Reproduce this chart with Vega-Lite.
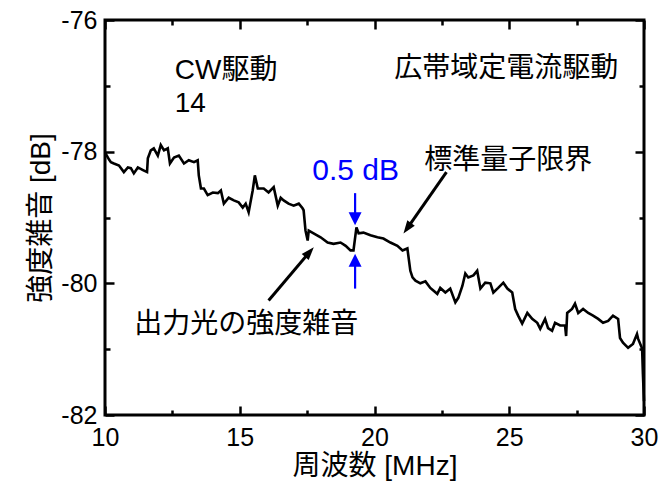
{
  "$schema": "https://vega.github.io/schema/vega-lite/v6.json",
  "width": 539,
  "height": 395,
  "autosize": {"type": "none"},
  "padding": {"left": 105, "top": 20, "right": 27, "bottom": 70},
  "datasets": {
    "trace": [
      {"f": 10.00, "n": -78.01}, {"f": 10.15, "n": -78.12}, {"f": 10.22, "n": -78.16}, {"f": 10.33, "n": -78.18},
      {"f": 10.52, "n": -78.21}, {"f": 10.70, "n": -78.31}, {"f": 10.85, "n": -78.24}, {"f": 10.96, "n": -78.25},
      {"f": 11.07, "n": -78.33}, {"f": 11.22, "n": -78.24}, {"f": 11.41, "n": -78.28}, {"f": 11.56, "n": -78.31},
      {"f": 11.59, "n": -78.10}, {"f": 11.70, "n": -77.98}, {"f": 11.81, "n": -77.95}, {"f": 11.96, "n": -78.06},
      {"f": 12.07, "n": -77.90}, {"f": 12.19, "n": -77.98}, {"f": 12.33, "n": -77.95}, {"f": 12.41, "n": -78.18},
      {"f": 12.56, "n": -78.09}, {"f": 12.74, "n": -78.06}, {"f": 12.93, "n": -78.18}, {"f": 13.11, "n": -78.13},
      {"f": 13.30, "n": -78.16}, {"f": 13.44, "n": -78.13}, {"f": 13.48, "n": -78.36}, {"f": 13.56, "n": -78.56},
      {"f": 13.67, "n": -78.56}, {"f": 13.81, "n": -78.66}, {"f": 14.00, "n": -78.62}, {"f": 14.19, "n": -78.63},
      {"f": 14.30, "n": -78.59}, {"f": 14.41, "n": -78.79}, {"f": 14.59, "n": -78.70}, {"f": 14.78, "n": -78.74},
      {"f": 14.96, "n": -78.77}, {"f": 15.11, "n": -78.85}, {"f": 15.22, "n": -78.79}, {"f": 15.33, "n": -78.92},
      {"f": 15.48, "n": -78.59}, {"f": 15.56, "n": -78.36}, {"f": 15.67, "n": -78.56}, {"f": 15.89, "n": -78.56},
      {"f": 16.07, "n": -78.62}, {"f": 16.26, "n": -78.54}, {"f": 16.41, "n": -78.82}, {"f": 16.52, "n": -78.70},
      {"f": 16.63, "n": -78.74}, {"f": 16.81, "n": -78.79}, {"f": 17.00, "n": -78.82}, {"f": 17.19, "n": -78.79},
      {"f": 17.33, "n": -78.86}, {"f": 17.37, "n": -78.89}, {"f": 17.44, "n": -79.20}, {"f": 17.52, "n": -79.35},
      {"f": 17.56, "n": -79.20}, {"f": 17.74, "n": -79.24}, {"f": 18.00, "n": -79.30}, {"f": 18.26, "n": -79.38},
      {"f": 18.48, "n": -79.40}, {"f": 18.74, "n": -79.38}, {"f": 18.93, "n": -79.43}, {"f": 19.11, "n": -79.50},
      {"f": 19.22, "n": -79.50}, {"f": 19.33, "n": -79.15}, {"f": 19.41, "n": -79.24}, {"f": 19.59, "n": -79.23},
      {"f": 19.85, "n": -79.27}, {"f": 20.11, "n": -79.30}, {"f": 20.33, "n": -79.32}, {"f": 20.59, "n": -79.38},
      {"f": 20.85, "n": -79.43}, {"f": 21.04, "n": -79.50}, {"f": 21.22, "n": -79.47}, {"f": 21.33, "n": -79.81},
      {"f": 21.41, "n": -79.91}, {"f": 21.52, "n": -79.96}, {"f": 21.70, "n": -80.00}, {"f": 21.89, "n": -79.97},
      {"f": 22.07, "n": -80.07}, {"f": 22.33, "n": -80.16}, {"f": 22.44, "n": -80.07}, {"f": 22.63, "n": -80.14},
      {"f": 22.81, "n": -80.08}, {"f": 23.00, "n": -80.29}, {"f": 23.11, "n": -80.22}, {"f": 23.26, "n": -80.04},
      {"f": 23.37, "n": -79.85}, {"f": 23.48, "n": -79.91}, {"f": 23.67, "n": -79.88}, {"f": 23.81, "n": -79.81},
      {"f": 23.93, "n": -80.08}, {"f": 24.11, "n": -79.99}, {"f": 24.30, "n": -80.00}, {"f": 24.41, "n": -80.14},
      {"f": 24.59, "n": -80.07}, {"f": 24.78, "n": -79.99}, {"f": 24.93, "n": -80.08}, {"f": 25.11, "n": -80.14},
      {"f": 25.22, "n": -80.39}, {"f": 25.33, "n": -80.49}, {"f": 25.48, "n": -80.61}, {"f": 25.67, "n": -80.45},
      {"f": 25.85, "n": -80.54}, {"f": 26.04, "n": -80.60}, {"f": 26.15, "n": -80.69}, {"f": 26.33, "n": -80.54},
      {"f": 26.44, "n": -80.68}, {"f": 26.59, "n": -80.72}, {"f": 26.70, "n": -80.60}, {"f": 26.89, "n": -80.64},
      {"f": 27.07, "n": -80.64}, {"f": 27.11, "n": -80.80}, {"f": 27.15, "n": -80.45}, {"f": 27.33, "n": -80.39},
      {"f": 27.44, "n": -80.31}, {"f": 27.56, "n": -80.45}, {"f": 27.74, "n": -80.39}, {"f": 27.93, "n": -80.45},
      {"f": 28.11, "n": -80.49}, {"f": 28.30, "n": -80.54}, {"f": 28.48, "n": -80.60}, {"f": 28.67, "n": -80.57},
      {"f": 28.85, "n": -80.49}, {"f": 29.04, "n": -80.54}, {"f": 29.11, "n": -80.83}, {"f": 29.22, "n": -80.90},
      {"f": 29.41, "n": -80.98}, {"f": 29.59, "n": -80.92}, {"f": 29.74, "n": -80.77}, {"f": 29.78, "n": -80.84},
      {"f": 29.93, "n": -80.99}, {"f": 29.96, "n": -81.38}, {"f": 30.00, "n": -81.79}
    ],
    "arrow_sql": [{"f": 22.67, "n": -78.31, "f2": 21.24, "n2": -79.15}],
    "arrow_out": [{"f": 16.07, "n": -80.26, "f2": 17.56, "n2": -79.54}],
    "blue_top": [{"f": 19.28, "n": -78.63, "f2": 19.28, "n2": -79.00}],
    "blue_bottom": [{"f": 19.28, "n": -80.08, "f2": 19.28, "n2": -79.67}],
    "notes_left": [
      {"f": 12.59, "n": -76.77, "label": "CW駆動"},
      {"f": 12.59, "n": -77.27, "label": "14"}
    ],
    "notes_center": [
      {"f": 24.89, "n": -76.75, "label": "広帯域定電流駆動"},
      {"f": 24.96, "n": -78.14, "label": "標準量子限界"},
      {"f": 15.24, "n": -80.64, "label": "出力光の強度雑音"}
    ],
    "notes_blue": [{"f": 19.30, "n": -78.29, "label": "0.5 dB"}]
  },
  "layer": [
    {
      "data": {"name": "trace"},
      "mark": {"type": "line", "color": "#000", "strokeWidth": 2.6},
      "encoding": {
        "x": {"field": "f", "type": "quantitative", "scale": {"domain": [10, 30], "nice": false, "zero": false},
          "axis": {"orient": "bottom", "values": [10, 15, 20, 25, 30], "ticks": false, "labelPadding": 10, "title": "周波数 [MHz]", "titlePadding": 2}},
        "y": {"field": "n", "type": "quantitative", "scale": {"domain": [-82, -76], "nice": false, "zero": false},
          "axis": {"orient": "left", "values": [-82, -80, -78, -76], "ticks": false, "labelPadding": 8, "title": "強度雑音 [dB]", "titlePadding": 5,
            "labelExpr": "datum.value < 0 ? '-' + abs(datum.value) : '' + datum.value"}}
      }
    },
    {
      "data": {"name": "arrow_sql"},
      "mark": {"type": "rule", "color": "#000", "strokeWidth": 3},
      "encoding": {
        "x": {"field": "f", "type": "quantitative", "scale": {"domain": [10, 30], "nice": false, "zero": false},
          "axis": {"orient": "bottom", "values": [10, 15, 20, 25, 30], "labels": false, "tickSize": 9, "offset": -9, "title": null}},
        "y": {"field": "n", "type": "quantitative", "scale": {"domain": [-82, -76], "nice": false, "zero": false},
          "axis": {"orient": "left", "values": [-82, -80, -78, -76], "labels": false, "tickSize": 9, "offset": -9, "title": null}},
        "x2": {"field": "f2"},
        "y2": {"field": "n2"}
      }
    },
    {
      "data": {"name": "arrow_out"},
      "mark": {"type": "rule", "color": "#000", "strokeWidth": 3},
      "encoding": {
        "x": {"field": "f", "type": "quantitative", "scale": {"domain": [10, 30], "nice": false, "zero": false},
          "axis": {"orient": "bottom", "values": [12.5, 17.5, 22.5, 27.5], "labels": false, "tickSize": 5, "offset": -5, "title": null}},
        "y": {"field": "n", "type": "quantitative", "scale": {"domain": [-82, -76], "nice": false, "zero": false},
          "axis": {"orient": "left", "values": [-81, -79, -77], "labels": false, "tickSize": 5, "offset": -5, "title": null}},
        "x2": {"field": "f2"},
        "y2": {"field": "n2"}
      }
    },
    {
      "data": {"name": "blue_top"},
      "mark": {"type": "rule", "color": "#0000ff", "strokeWidth": 2.2},
      "encoding": {
        "x": {"field": "f", "type": "quantitative", "scale": {"domain": [10, 30], "nice": false, "zero": false},
          "axis": {"orient": "top", "values": [10, 15, 20, 25, 30], "labels": false, "tickSize": 9, "offset": -9, "title": null}},
        "y": {"field": "n", "type": "quantitative", "scale": {"domain": [-82, -76], "nice": false, "zero": false},
          "axis": {"orient": "right", "values": [-82, -80, -78, -76], "labels": false, "tickSize": 9, "offset": -9, "title": null}},
        "x2": {"field": "f2"},
        "y2": {"field": "n2"}
      }
    },
    {
      "data": {"name": "blue_bottom"},
      "mark": {"type": "rule", "color": "#0000ff", "strokeWidth": 2.2},
      "encoding": {
        "x": {"field": "f", "type": "quantitative", "scale": {"domain": [10, 30], "nice": false, "zero": false},
          "axis": {"orient": "top", "values": [12.5, 17.5, 22.5, 27.5], "labels": false, "tickSize": 5, "offset": -5, "title": null}},
        "y": {"field": "n", "type": "quantitative", "scale": {"domain": [-82, -76], "nice": false, "zero": false},
          "axis": {"orient": "right", "values": [-81, -79, -77], "labels": false, "tickSize": 5, "offset": -5, "title": null}},
        "x2": {"field": "f2"},
        "y2": {"field": "n2"}
      }
    },
    {
      "data": {"name": "arrow_sql"},
      "mark": {"type": "point", "shape": "M0,-1L0.6,0.7L-0.6,0.7Z", "filled": true, "color": "#000", "opacity": 1, "strokeWidth": 0, "size": 235, "angle": 215.5},
      "encoding": {
        "x": {"field": "f2", "type": "quantitative", "scale": {"domain": [10, 30], "nice": false, "zero": false}, "axis": null},
        "y": {"field": "n2", "type": "quantitative", "scale": {"domain": [-82, -76], "nice": false, "zero": false}, "axis": null}
      }
    },
    {
      "data": {"name": "arrow_out"},
      "mark": {"type": "point", "shape": "M0,-1L0.6,0.7L-0.6,0.7Z", "filled": true, "color": "#000", "opacity": 1, "strokeWidth": 0, "size": 235, "angle": 41},
      "encoding": {
        "x": {"field": "f2", "type": "quantitative", "scale": {"domain": [10, 30], "nice": false, "zero": false}, "axis": null},
        "y": {"field": "n2", "type": "quantitative", "scale": {"domain": [-82, -76], "nice": false, "zero": false}, "axis": null}
      }
    },
    {
      "data": {"name": "blue_top"},
      "mark": {"type": "point", "shape": "M0,-0.9L0.75,0.6L-0.75,0.6Z", "filled": true, "color": "#0000ff", "opacity": 1, "strokeWidth": 0, "size": 300, "angle": 180},
      "encoding": {
        "x": {"field": "f2", "type": "quantitative", "scale": {"domain": [10, 30], "nice": false, "zero": false}, "axis": null},
        "y": {"field": "n2", "type": "quantitative", "scale": {"domain": [-82, -76], "nice": false, "zero": false}, "axis": null}
      }
    },
    {
      "data": {"name": "blue_bottom"},
      "mark": {"type": "point", "shape": "M0,-0.9L0.75,0.6L-0.75,0.6Z", "filled": true, "color": "#0000ff", "opacity": 1, "strokeWidth": 0, "size": 300, "angle": 0},
      "encoding": {
        "x": {"field": "f2", "type": "quantitative", "scale": {"domain": [10, 30], "nice": false, "zero": false}, "axis": null},
        "y": {"field": "n2", "type": "quantitative", "scale": {"domain": [-82, -76], "nice": false, "zero": false}, "axis": null}
      }
    },
    {
      "data": {"name": "notes_left"},
      "mark": {"type": "text", "align": "left", "baseline": "middle", "fontSize": 28, "color": "#000", "font": "'Liberation Sans', 'Noto Sans CJK JP', sans-serif"},
      "encoding": {
        "x": {"field": "f", "type": "quantitative", "scale": {"domain": [10, 30], "nice": false, "zero": false}, "axis": null},
        "y": {"field": "n", "type": "quantitative", "scale": {"domain": [-82, -76], "nice": false, "zero": false}, "axis": null},
        "text": {"field": "label"}
      }
    },
    {
      "data": {"name": "notes_center"},
      "mark": {"type": "text", "align": "center", "baseline": "middle", "fontSize": 28, "color": "#000", "font": "'Liberation Sans', 'Noto Sans CJK JP', sans-serif"},
      "encoding": {
        "x": {"field": "f", "type": "quantitative", "scale": {"domain": [10, 30], "nice": false, "zero": false}, "axis": null},
        "y": {"field": "n", "type": "quantitative", "scale": {"domain": [-82, -76], "nice": false, "zero": false}, "axis": null},
        "text": {"field": "label"}
      }
    },
    {
      "data": {"name": "notes_blue"},
      "mark": {"type": "text", "align": "center", "baseline": "middle", "fontSize": 30, "color": "#0000ff", "font": "'Liberation Sans', 'Noto Sans CJK JP', sans-serif"},
      "encoding": {
        "x": {"field": "f", "type": "quantitative", "scale": {"domain": [10, 30], "nice": false, "zero": false}, "axis": null},
        "y": {"field": "n", "type": "quantitative", "scale": {"domain": [-82, -76], "nice": false, "zero": false}, "axis": null},
        "text": {"field": "label"}
      }
    }
  ],
  "resolve": {"axis": {"x": "independent", "y": "independent"}},
  "config": {
    "view": {"stroke": "#000", "strokeWidth": 3},
    "axis": {
      "domain": false,
      "grid": false,
      "labelFont": "'Liberation Sans', 'Noto Sans CJK JP', sans-serif",
      "labelFontSize": 25,
      "labelColor": "#000",
      "labelFlush": false,
      "labelOverlap": false,
      "titleFont": "'Liberation Sans', 'Noto Sans CJK JP', sans-serif",
      "titleFontSize": 28,
      "titleFontWeight": "normal",
      "titleColor": "#000",
      "tickColor": "#000",
      "tickWidth": 2.5
    }
  }
}
